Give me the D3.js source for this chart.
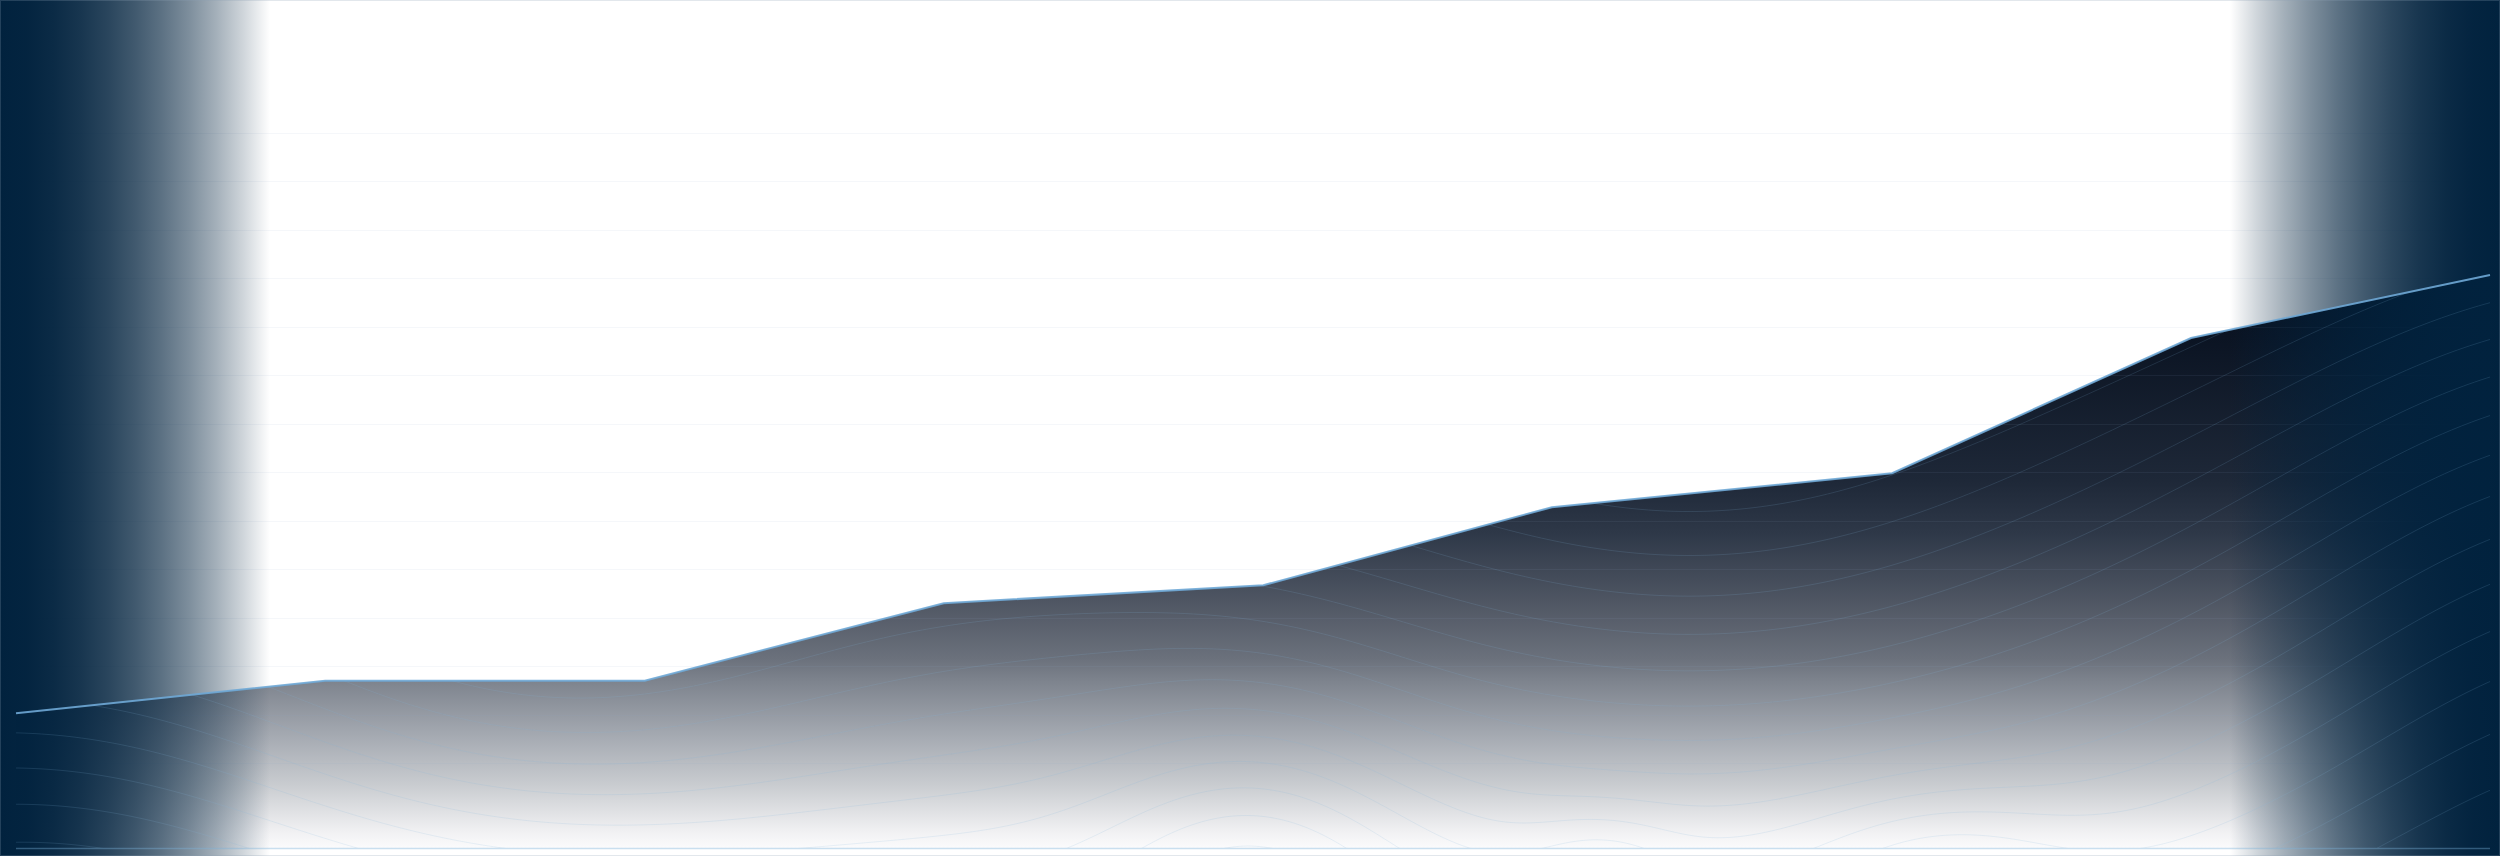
<!DOCTYPE html>
<html lang="en">
<head>
    <meta charset="UTF-8">
    <script src="https://cdn.jsdelivr.net/npm/d3@7"></script>
    <style>
        * { box-sizing: border-box; }
        body { margin: 0; background: #fff; }
        svg { display: block; }
    </style>
    <title>Area</title>
</head>
<body>
    <svg id="svg1" width="2500" height="856"></svg>
    <script>
        // data
        const dates = ["2023-01-01", "2023-01-31", "2023-03-03", "2023-04-01", "2023-05-02",
            "2023-05-30", "2023-07-02", "2023-07-31", "2023-08-29"];
        const values = [20.3, 27.0, 27.0, 43.0, 46.7, 62.8, 69.8, 97.7, 110.7];
        const yTicks = [10, 20, 30, 40, 50, 60, 70, 80, 90, 100, 110, 120, 130, 140];

        // decorative terrain texture: cx, cy, sx, sy, amp
        const contourBumps = [
            [1690, 520, 280, 260, -0.55],
            [540, 660, 230, 140, -0.45],
            [2620, 560, 260, 420, 0.9],
            [1255, 880, 110, 130, 0.55],
            [1935, 870, 90, 60, 0.35],
            [1600, 870, 50, 40, 0.25],
            [40, 900, 250, 250, 0.5]
        ];

        const svgWidth = 2500, svgHeight = 856;
        const plotLeft = 16, plotRight = 2490, plotBottom = 848, plotTop = 99;
        const navy = "#01223e";

        const parse = d3.utcParse("%Y-%m-%d");
        const data = dates.map((d, i) => ({ date: parse(d), value: values[i] }));

        const x = d3.scaleUtc().domain(d3.extent(data, d => d.date)).range([plotLeft, plotRight]);
        const y = d3.scaleLinear().domain([-7.5, 147]).range([plotBottom, plotTop]);

        const svg = d3.select("#svg1");
        const defs = svg.append("defs");

        // area fill gradient, dark at the top of the data down to white
        const fillStops = [
            [0, "#070e1a"], [0.11, "#0b1423"], [0.36, "#1e2838"], [0.45, "#2e3848"],
            [0.57, "#4f5663"], [0.67, "#6b717c"], [0.71, "#7e848e"], [0.8, "#a3a8b0"],
            [0.89, "#c9ccd0"], [0.97, "#f0f0f2"], [1, "#fbfbfc"]
        ];
        const areaGrad = defs.append("linearGradient")
            .attr("id", "areaGrad")
            .attr("gradientUnits", "userSpaceOnUse")
            .attr("x1", 0).attr("x2", 0)
            .attr("y1", y(d3.max(values))).attr("y2", plotBottom);
        areaGrad.selectAll("stop").data(fillStops).join("stop")
            .attr("offset", d => d[0])
            .attr("stop-color", d => d[1]);

        // side bands
        function bandGradient(id, flip) {
            const g = defs.append("linearGradient").attr("id", id)
                .attr("x1", flip ? 1 : 0).attr("x2", flip ? 0 : 1)
                .attr("y1", 0).attr("y2", 0);
            g.selectAll("stop").data(d3.range(0, 1.0001, 0.1)).join("stop")
                .attr("offset", t => t)
                .attr("stop-color", navy)
                .attr("stop-opacity", t => 1 - t * t);
        }
        bandGradient("bandL", false);
        bandGradient("bandR", true);

        const area = d3.area()
            .x(d => x(d.date))
            .y0(plotBottom)
            .y1(d => y(d.value));
        const line = d3.line()
            .x(d => x(d.date))
            .y(d => y(d.value));

        defs.append("clipPath").attr("id", "areaClip")
            .append("path").attr("d", area(data));

        svg.append("rect").attr("width", svgWidth).attr("height", svgHeight).attr("fill", "#fff");

        svg.append("path")
            .attr("d", area(data))
            .attr("fill", "url(#areaGrad)");

        // gridlines (under the side bands)
        svg.append("g").selectAll("line").data(yTicks).join("line")
            .attr("x1", plotLeft).attr("x2", plotRight)
            .attr("y1", d => Math.round(y(d)) + 0.5).attr("y2", d => Math.round(y(d)) + 0.5)
            .attr("stroke", "rgb(140,170,200)")
            .attr("stroke-opacity", 0.09);

        svg.append("rect").attr("x", 0).attr("y", 0)
            .attr("width", 270).attr("height", svgHeight)
            .attr("fill", "url(#bandL)");
        svg.append("rect").attr("x", svgWidth - 270).attr("y", 0)
            .attr("width", 270).attr("height", svgHeight)
            .attr("fill", "url(#bandR)");

        // contour texture inside the area
        const cell = 4;
        const nx = Math.ceil(svgWidth / cell), ny = Math.ceil(svgHeight / cell);
        const field = new Float64Array(nx * ny);
        for (let j = 0; j < ny; j++) {
            for (let i = 0; i < nx; i++) {
                const px = i * cell, py = j * cell;
                let v = py * 0.004;
                contourBumps.forEach(([cx, cy, sx, sy, a]) => {
                    const dx = (px - cx) / sx, dy = (py - cy) / sy;
                    v += a * Math.exp(-(dx * dx + dy * dy) / 2);
                });
                field[j * nx + i] = v;
            }
        }
        const contours = d3.contours().size([nx, ny])
            .thresholds(d3.range(0.05, 4.6, 0.18))(field);
        const scaleGrid = d3.geoTransform({
            point: function (px, py) { this.stream.point(px * cell, py * cell); }
        });
        svg.append("g")
            .attr("clip-path", "url(#areaClip)")
            .selectAll("path").data(contours).join("path")
            .attr("d", d3.geoPath(scaleGrid))
            .attr("fill", "none")
            .attr("stroke", "rgb(130,180,220)")
            .attr("stroke-opacity", 0.16)
            .attr("stroke-width", 1);

        // baseline
        svg.append("line")
            .attr("x1", plotLeft).attr("x2", plotRight)
            .attr("y1", plotBottom + 0.5).attr("y2", plotBottom + 0.5)
            .attr("stroke", "rgb(120,175,215)")
            .attr("stroke-opacity", 0.4)
            .attr("stroke-width", 1.5);

        svg.append("path")
            .attr("d", line(data))
            .attr("fill", "none")
            .attr("stroke", "#6fa8d6")
            .attr("stroke-opacity", 0.9)
            .attr("stroke-width", 2);

        svg.append("rect")
            .attr("x", 0.5).attr("y", 0.5)
            .attr("width", svgWidth - 1).attr("height", svgHeight - 1)
            .attr("fill", "none")
            .attr("stroke", "rgb(140,160,180)")
            .attr("stroke-opacity", 0.25);
    </script>
</body>
</html>
